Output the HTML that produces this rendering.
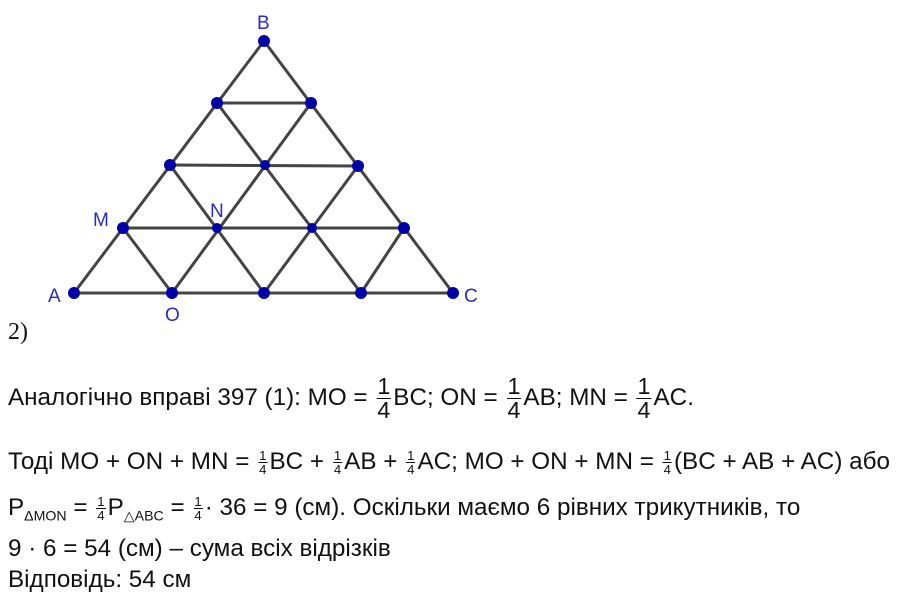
<!DOCTYPE html>
<html><head><meta charset="utf-8"><style>
body{margin:0;width:908px;height:605px;background:#fff;position:relative;overflow:hidden;font-family:"Liberation Sans",sans-serif;color:#111;}
.l{position:absolute;left:8px;font-size:24px;white-space:nowrap;line-height:1;transform:scaleX(1.01);transform-origin:0 0;}
.f{display:inline-block;vertical-align:middle;text-align:center;line-height:1;margin:0 2px;}
.f span{display:block;}
.f .n{border-bottom:1px solid #111;padding:0 1px;}
.big{font-size:23px;}
.sm{font-size:13px;}
sub{font-size:14px;}
</style></head><body>
<svg width="908" height="345" style="position:absolute;left:0;top:0">
<g stroke="#444" stroke-width="3" fill="none">
<polygon points="74,293 264,41 453,293"/>
<line x1="217" y1="103" x2="311" y2="103"/>
<line x1="170" y1="165" x2="358" y2="166"/>
<line x1="123" y1="228" x2="404" y2="228"/>
<line x1="217" y1="103" x2="361" y2="293"/>
<line x1="170" y1="165" x2="264" y2="293"/>
<line x1="123" y1="228" x2="172" y2="293"/>
<line x1="311" y1="103" x2="172" y2="293"/>
<line x1="358" y1="166" x2="264" y2="293"/>
<line x1="404" y1="228" x2="361" y2="293"/>
</g>
<g fill="#0000a8">
<circle cx="264" cy="41" r="6"/><circle cx="217" cy="103" r="6"/><circle cx="311" cy="103" r="6"/>
<circle cx="170" cy="165" r="6"/><circle cx="265" cy="165" r="5"/><circle cx="358" cy="166" r="6"/>
<circle cx="123" cy="228" r="6"/><circle cx="217" cy="228" r="5"/><circle cx="312" cy="228" r="5"/><circle cx="404" cy="228" r="6"/>
<circle cx="74" cy="293" r="6"/><circle cx="172" cy="293" r="6"/><circle cx="264" cy="293" r="6"/><circle cx="361" cy="293" r="6"/><circle cx="453" cy="293" r="6"/>
</g>
<g fill="#2a2ac8" font-family="Liberation Sans,sans-serif" font-size="19">
<text x="257" y="29">B</text><text x="93" y="226">M</text><text x="210" y="217">N</text>
<text x="48" y="302">A</text><text x="165" y="321">O</text><text x="464" y="302">C</text>
</g>
<text x="8" y="339" font-family="Liberation Serif,serif" font-size="24" fill="#111">2)</text>
</svg>
<div class="l" style="top:375px;">Аналогічно вправі 397 (1): MO = <span class="f big"><span class="n" style="border:none">1</span><span style="border-top:1px solid #111">4</span></span>BC; ON = <span class="f big"><span class="n" style="border:none">1</span><span style="border-top:1px solid #111">4</span></span>AB; MN = <span class="f big"><span class="n" style="border:none">1</span><span style="border-top:1px solid #111">4</span></span>AC.</div>
<div class="l" style="top:449px;">Тоді MO + ON + MN = <span class="f sm"><span class="n">1</span><span>4</span></span>BC + <span class="f sm"><span class="n">1</span><span>4</span></span>AB + <span class="f sm"><span class="n">1</span><span>4</span></span>AC; MO + ON + MN = <span class="f sm"><span class="n">1</span><span>4</span></span>(BC + AB + AC) або</div>
<div class="l" style="top:495px;">P<sub>ΔMON</sub> = <span class="f sm"><span class="n">1</span><span>4</span></span>P<sub>△ABC</sub> = <span class="f sm"><span class="n">1</span><span>4</span></span>· 36 = 9 (см). Оскільки маємо 6 рівних трикутників, то</div>
<div class="l" style="top:537px;">9 · 6 = 54 (см) – сума всіх відрізків</div>
<div class="l" style="top:568px;">Відповідь: 54 см</div>
</body></html>
